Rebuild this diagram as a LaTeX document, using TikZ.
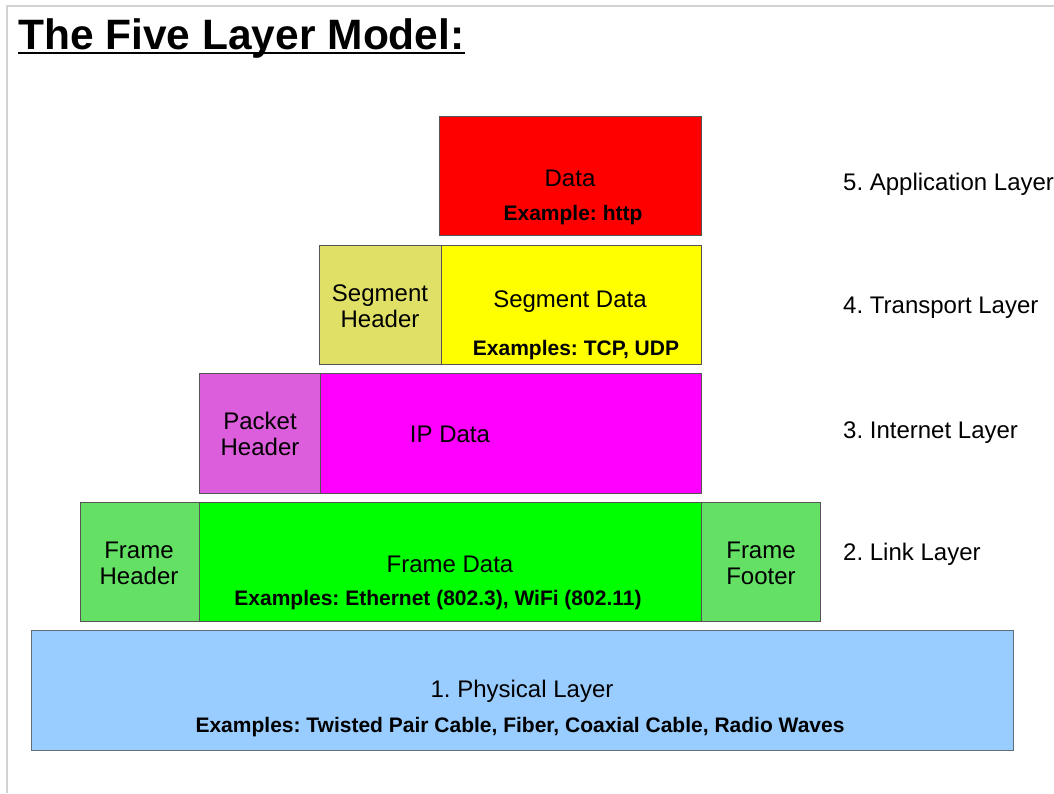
\documentclass[tikz,border=0pt]{standalone}
\usepackage{fontspec}
\setmainfont{Liberation Sans}
\frenchspacing
\definecolor{cred}{RGB}{255,0,0}
\definecolor{cyel}{RGB}{255,255,0}
\definecolor{csegh}{RGB}{224,224,102}
\definecolor{cmag}{RGB}{255,0,255}
\definecolor{cpkth}{RGB}{221,94,221}
\definecolor{cgrn}{RGB}{0,255,0}
\definecolor{cfrh}{RGB}{100,224,100}
\definecolor{cphy}{RGB}{153,204,255}
\definecolor{cedge}{RGB}{85,85,85}
\definecolor{cframe}{RGB}{210,210,210}
\tikzset{
  layerbox/.style={draw=cedge, line width=1.2pt, inner sep=0pt, anchor=north west},
  lbl/.style={inner sep=0pt, align=center, font=\fontsize{24}{26}\selectfont},
  exlbl/.style={inner sep=0pt, align=center, font=\fontsize{21}{24}\selectfont\bfseries},
  sidelbl/.style={inner sep=0pt, anchor=west, font=\fontsize{24}{26}\selectfont},
}
\begin{document}
\begin{tikzpicture}[x=1pt,y=-1pt]
\useasboundingbox (0,0) rectangle (1054,793);
% slide frame
\draw[cframe, line width=1.5pt] (7,793) -- (7,6) -- (1054,6);
% title
\node[inner sep=0pt, anchor=base west, font=\fontsize{42.5}{46}\selectfont\bfseries] (title) at (18,49) {The Five Layer Model:};
\draw[line width=2.2pt] (title.base west) ++(0,4) coordinate (ul1) -- (ul1 -| title.base east);
% layer 5
\node[layerbox, fill=cred, minimum width=262pt, minimum height=119pt] (data) at (439,116) {};
\node[lbl] (datat) at (570,178) {Data};
\node[exlbl] (datax) at (573,215) {Example: http};
% layer 4
\node[layerbox, fill=csegh, minimum width=122pt, minimum height=119pt] (segh) at (319,245) {};
\node[layerbox, fill=cyel, minimum width=260pt, minimum height=119pt] (segd) at (441,245) {};
\node[lbl] (seght) at (380,306) {Segment\\Header};
\node[lbl] (segdt) at (570,302) {Segment Data};
\node[exlbl] (segdx) at (576,350) {Examples: TCP, UDP};
% layer 3
\node[layerbox, fill=cpkth, minimum width=121pt, minimum height=120pt] (pkth) at (199,373) {};
\node[layerbox, fill=cmag, minimum width=381pt, minimum height=120pt] (ipd) at (320,373) {};
\node[lbl] (pktht) at (260,434) {Packet\\Header};
\node[lbl] (ipdt) at (450,434) {IP Data};
% layer 2
\node[layerbox, fill=cfrh, minimum width=119pt, minimum height=119pt] (frh) at (80,502) {};
\node[layerbox, fill=cgrn, minimum width=502pt, minimum height=119pt] (frd) at (199,502) {};
\node[layerbox, fill=cfrh, minimum width=119pt, minimum height=119pt] (frf) at (701,502) {};
\node[lbl] (frht) at (139,563) {Frame\\Header};
\node[lbl] (frdt) at (450,564) {Frame Data};
\node[exlbl] (frdx) at (438,600) {Examples: Ethernet (802.3), WiFi (802.11)};
\node[lbl] (frft) at (761,563) {Frame\\Footer};
% layer 1
\node[layerbox, draw=cedge!80!cphy, fill=cphy, minimum width=982pt, minimum height=120pt] (phy) at (31,630) {};
\node[lbl] (phyt) at (522,691) {1. Physical Layer};
\node[exlbl] (phyx) at (520,727) {Examples: Twisted Pair Cable, Fiber, Coaxial Cable, Radio Waves};
% side labels
\node[sidelbl] (l5) at (843,184) {5. Application Layer};
\node[sidelbl] (l4) at (843,308) {4. Transport Layer};
\node[sidelbl] (l3) at (843,433) {3. Internet Layer};
\node[sidelbl] (l2) at (843,554) {2. Link Layer};
\end{tikzpicture}
\end{document}
